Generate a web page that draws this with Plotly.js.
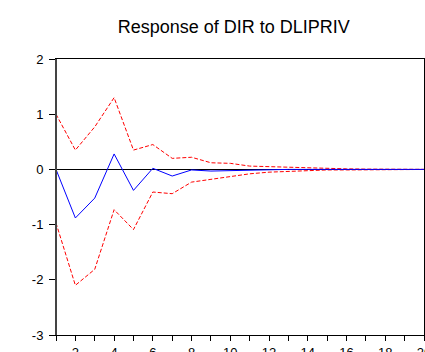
<!DOCTYPE html>
<html>
<head>
<meta charset="utf-8">
<script src="https://cdn.plot.ly/plotly-3.0.1.min.js"></script>
<style>html,body{margin:0;padding:0;background:#fff;}#chart{width:425px;height:352px;}</style>
</head>
<body>
<div id="chart"></div>
<script>
const periods = [1,2,3,4,5,6,7,8,9,10,11,12,13,14,15,16,17,18,19,20];
const response = [0, -0.88, -0.52, 0.28, -0.38, 0.02, -0.12, -0.01, -0.03, -0.02, -0.01, -0.005, 0, 0, 0, 0, 0, 0, 0, 0];
const upperBand = [1.0, 0.35, 0.77, 1.30, 0.35, 0.45, 0.20, 0.22, 0.12, 0.11, 0.06, 0.05, 0.03, 0.02, 0.01, 0.01, 0.005, 0.003, 0.002, 0.001];
const lowerBand = [-0.97, -2.10, -1.81, -0.73, -1.09, -0.41, -0.44, -0.23, -0.18, -0.13, -0.08, -0.05, -0.035, -0.02, -0.01, -0.01, -0.005, -0.003, -0.002, -0.001];
const xTickVals = periods;
const xTickText = periods.map(p => (p % 2 === 0 ? String(p) : ''));
const yTickVals = [-3, -2, -1, 0, 1, 2];
const yTickText = ['-3', '-2', '-1', '0', '1', '2'];
const chartTitle = 'Response of DIR to DLIPRIV';

const traces = [
  {x: periods, y: upperBand, mode: 'lines', line: {color: '#FF0000', width: 1, dash: '4px,2px'}, hoverinfo: 'skip'},
  {x: periods, y: lowerBand, mode: 'lines', line: {color: '#FF0000', width: 1, dash: '4px,2px'}, hoverinfo: 'skip'},
  {x: periods, y: response, mode: 'lines', line: {color: '#0000FF', width: 1}, hoverinfo: 'skip'}
];

const layout = {
  width: 425, height: 352,
  margin: {l: 56, r: 1, t: 59, b: 17, pad: 0},
  paper_bgcolor: '#fff', plot_bgcolor: '#fff',
  showlegend: false,
  font: {family: 'Liberation Sans, Arial, sans-serif', color: '#000', size: 13},
  title: {text: chartTitle, font: {size: 18, color: '#000'}, x: 0.55, xanchor: 'center', y: 0.925, yanchor: 'middle'},
  xaxis: {
    range: [1, 20], tickmode: 'array', tickvals: xTickVals, ticktext: xTickText,
    ticks: 'outside', ticklen: 5, tickcolor: '#000', tickwidth: 1,
    showgrid: false, zeroline: false, showline: true, linecolor: '#000', linewidth: 1, mirror: true,
    tickfont: {size: 13}, ticklabeloverflow: 'allow'
  },
  yaxis: {
    range: [-3, 2], tickmode: 'array', tickvals: yTickVals, ticktext: yTickText,
    ticks: 'outside', ticklen: 6, tickcolor: '#000', tickwidth: 1,
    showgrid: false, zeroline: true, zerolinecolor: '#000', zerolinewidth: 1,
    showline: true, linecolor: '#000', linewidth: 1, mirror: true,
    tickfont: {size: 13}, ticklabelstandoff: 3
  },
  shapes: [
    {type: 'line', xref: 'paper', yref: 'paper', x0: 0, x1: 0, y0: 0, y1: 1, line: {color: '#444', width: 2}}
  ]
};

Plotly.newPlot('chart', traces, layout, {staticPlot: true, displayModeBar: false});
</script>
</body>
</html>
